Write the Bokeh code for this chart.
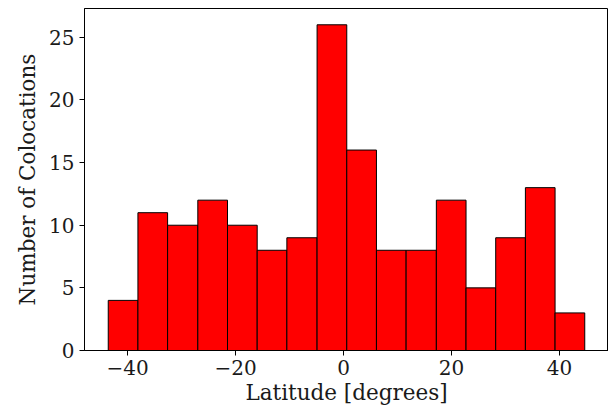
from bokeh.plotting import figure
from bokeh.models import Range1d, FixedTicker
from bokeh.embed import file_html
from bokeh.resources import INLINE

# Histogram data
bin_edges = [-43.6, -38.1, -32.6, -27.0, -21.5, -16.0, -10.5, -4.9, 0.6,
             6.1, 11.6, 17.2, 22.7, 28.2, 33.7, 39.2, 44.7]
counts = [4, 11, 10, 12, 10, 8, 9, 26, 16, 8, 8, 12, 5, 9, 13, 3]
x_ticks = [-40, -20, 0, 20, 40]
y_ticks = [0, 5, 10, 15, 20, 25]

FONT = "DejaVu Serif"

p = figure(width=608, height=411, output_backend="svg", toolbar_location=None,
           x_range=Range1d(-48.0, 49.1), y_range=Range1d(0, 27.3),
           min_border_left=84, min_border_right=0, min_border_top=8,
           min_border_bottom=61)

p.quad(left=bin_edges[:-1], right=bin_edges[1:], bottom=[0] * len(counts), top=counts,
       fill_color="#ff0000", line_color="#000000", line_width=1)

p.xgrid.visible = False
p.ygrid.visible = False
p.outline_line_color = "black"
p.outline_line_width = 1
p.background_fill_color = "white"
p.border_fill_color = "white"

p.xaxis.ticker = FixedTicker(ticks=x_ticks)
p.yaxis.ticker = FixedTicker(ticks=y_ticks)
p.xaxis.axis_label = "Latitude [degrees]"
p.yaxis.axis_label = "Number of Colocations"

for ax in (p.xaxis[0], p.yaxis[0]):
    ax.axis_label_text_font = FONT
    ax.axis_label_text_font_style = "normal"
    ax.axis_label_text_font_size = "21.5px"
    ax.axis_label_text_color = "#1a1a1a"
    ax.major_label_text_font = FONT
    ax.major_label_text_font_size = "20px"
    ax.major_label_text_color = "#1a1a1a"
    ax.minor_tick_line_color = None
    ax.major_tick_out = 5
    ax.major_tick_in = 0
    ax.major_tick_line_color = "black"
    ax.axis_line_color = "black"

p.xaxis.axis_label_standoff = 2
p.yaxis.axis_label_standoff = 6
p.xaxis.major_label_standoff = 4
p.yaxis.major_label_standoff = 5

open("out.html", "w").write(file_html(p, INLINE))
